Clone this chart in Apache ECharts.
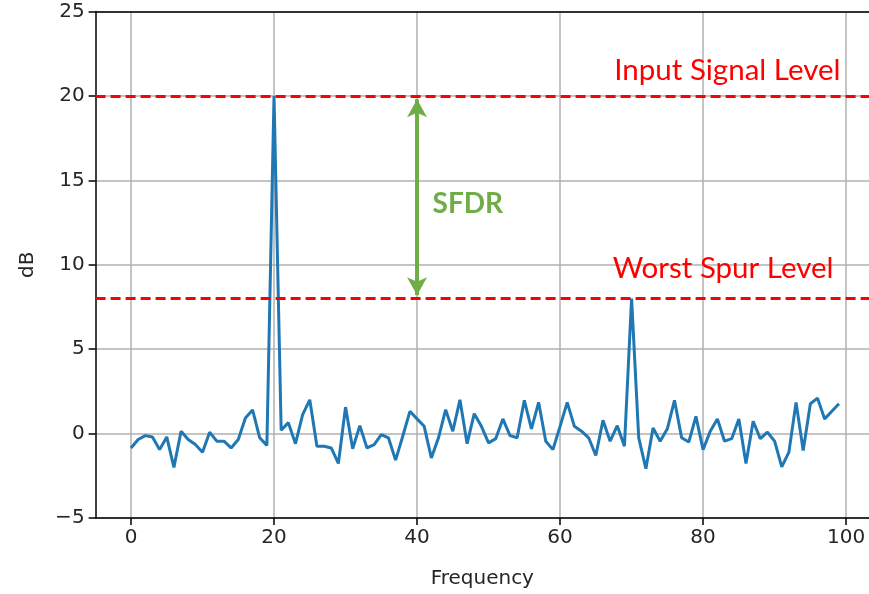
<!DOCTYPE html>
<html>
<head>
<meta charset="utf-8">
<script src="https://cdn.jsdelivr.net/npm/echarts@6/dist/echarts.min.js"></script>
<style>html,body{margin:0;padding:0;background:#fff}#c{width:869px;height:594px}</style>
</head>
<body>
<div id="c"></div>
<script>
const frequencies = Array.from({length: 100}, (_, i) => i);
const dBValues = [
 -0.85,-0.35,-0.12,-0.2,-0.95,-0.2,-2.0,0.14,-0.35,-0.65,
 -1.1,0.08,-0.45,-0.45,-0.85,-0.35,0.92,1.4,-0.25,-0.7,
 20.0,0.2,0.65,-0.6,1.12,2.0,-0.75,-0.75,-0.85,-1.77,
 1.57,-0.9,0.47,-0.85,-0.65,-0.06,-0.25,-1.57,-0.16,1.32,
 0.87,0.43,-1.44,-0.25,1.42,0.14,2.0,-0.6,1.18,0.43,
 -0.55,-0.3,0.87,-0.12,-0.25,1.97,0.28,1.85,-0.45,-0.95,
 0.43,1.85,0.43,0.14,-0.25,-1.3,0.79,-0.45,0.47,-0.75,
 8.0,-0.25,-2.08,0.33,-0.45,0.28,1.97,-0.25,-0.5,1.02,
 -0.95,0.14,0.87,-0.45,-0.3,0.87,-1.77,0.73,-0.3,0.08,
 -0.45,-1.97,-1.1,1.85,-1.0,1.77,2.1,0.87,1.32,1.77
];
const xTicks = [0, 20, 40, 60, 80, 100];
const inputSignalLevel = 20;
const worstSpurLevel = 8;
const sfdrX = 40;
const annotations = [
  {text: 'Input Signal Level', coord: [83.4, 21.5]},
  {text: 'Worst Spur Level', coord: [82.8, 9.75]}
];
const sfdrLabel = {text: 'SFDR', coord: [47.1, 13.6]};

const chart = echarts.init(document.getElementById('c'));
const tickFont = {fontFamily: 'DejaVu Sans', fontSize: 20, color: '#262626'};
const minus = v => String(v).replace('-', '\u2212');
chart.setOption({
  animation: false,
  grid: {left: 95.6, right: 0, top: 11.5, bottom: 74},
  xAxis: [{
    type: 'value', min: -4.95, max: 103.2,
    name: 'Frequency', nameLocation: 'middle', nameGap: 51,
    nameTextStyle: {fontFamily: 'DejaVu Sans', fontSize: 20, color: '#262626'},
    axisLine: {show: true, onZero: false, lineStyle: {color: '#000', width: 1.5}},
    axisTick: {show: true, inside: false, length: 7, customValues: xTicks, lineStyle: {color: '#000', width: 1.5}},
    axisLabel: Object.assign({customValues: xTicks, margin: 10}, tickFont),
    splitLine: {show: true, lineStyle: {color: '#b0b0b0', width: 1.5}}
  }, {
    type: 'value', position: 'top', min: -4.95, max: 103.2,
    axisLine: {show: true, onZero: false, lineStyle: {color: '#000', width: 1.5}},
    axisTick: {show: false}, axisLabel: {show: false}, splitLine: {show: false}
  }],
  yAxis: {
    type: 'value', min: -5, max: 25, interval: 5,
    name: 'dB', nameLocation: 'middle', nameGap: 58, nameRotate: 90,
    nameTextStyle: {fontFamily: 'DejaVu Sans', fontSize: 20, color: '#262626'},
    axisLine: {show: true, onZero: false, lineStyle: {color: '#000', width: 1.5}},
    axisTick: {show: true, inside: false, length: 7, lineStyle: {color: '#000', width: 1.5}},
    axisLabel: Object.assign({margin: 11, formatter: minus}, tickFont),
    splitLine: {show: true, lineStyle: {color: '#b0b0b0', width: 1.5}}
  },
  series: [
    {
      type: 'line',
      data: frequencies.map((f, i) => [f, dBValues[i]]),
      showSymbol: false, symbol: 'none',
      lineStyle: {color: '#1f77b4', width: 3},
      z: 3,
      markLine: {
        silent: true, symbol: 'none',
        label: {show: false},
        lineStyle: {color: '#ff0000', type: [10, 5], width: 3},
        data: [{yAxis: inputSignalLevel}, {yAxis: worstSpurLevel}]
      },
      markPoint: {
        silent: true, symbol: 'circle', symbolSize: 0,
        label: {show: true, position: 'inside', fontFamily: 'Lato', fontSize: 29.5, color: '#ff0000'},
        data: annotations.map(a => ({coord: a.coord, value: a.text, label: {formatter: a.text}}))
      }
    },
    {
      type: 'line', data: [], symbol: 'none',
      markLine: {
        silent: true,
        symbol: ['arrow', 'arrow'], symbolSize: [15, 18],
        label: {show: false},
        lineStyle: {color: '#70ad47', type: 'solid', width: 4},
        data: [[{coord: [sfdrX, inputSignalLevel - 0.2]}, {coord: [sfdrX, worstSpurLevel + 0.2]}]]
      },
      markPoint: {
        silent: true, symbol: 'circle', symbolSize: 0,
        label: {show: true, position: 'inside', fontFamily: 'Lato', fontSize: 28, fontWeight: 'bold', color: '#70ad47', formatter: sfdrLabel.text},
        data: [{coord: sfdrLabel.coord, value: sfdrLabel.text}]
      }
    }
  ]
});
</script>
</body>
</html>
